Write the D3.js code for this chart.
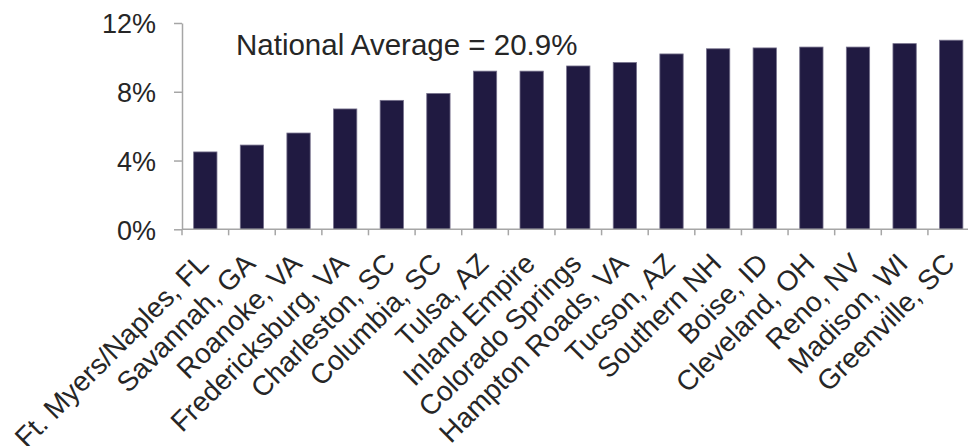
<!DOCTYPE html>
<html>
<head>
<meta charset="utf-8">
<script src="https://cdn.jsdelivr.net/npm/d3@7"></script>
<style>
  html, body { margin: 0; padding: 0; background: #ffffff; }
  svg { display: block; }
  text { font-family: Arial, "Liberation Sans", sans-serif; fill: #262626; }
</style>
</head>
<body>
<svg id="chart" width="968" height="446"></svg>
<script>
const categories = ["Ft. Myers/Naples, FL", "Savannah, GA", "Roanoke, VA", "Fredericksburg, VA", "Charleston, SC", "Columbia, SC", "Tulsa, AZ", "Inland Empire", "Colorado Springs", "Hampton Roads, VA", "Tucson, AZ", "Southern NH", "Boise, ID", "Cleveland, OH", "Reno, NV", "Madison, WI", "Greenville, SC"];
const values = [4.5, 4.9, 5.6, 7.0, 7.5, 7.9, 9.2, 9.2, 9.5, 9.7, 10.2, 10.5, 10.55, 10.6, 10.6, 10.8, 11.0];
const yTicks = [0, 4, 8, 12];
const annotation = "National Average = 20.9%";

const svg = d3.select("#chart");
const x0 = 182, yBase = 229.3, yTop = 23, step = 46.62;
const x = d3.scaleBand().domain(categories)
  .range([x0, x0 + step * categories.length])
  .paddingInner(0.5).paddingOuter(0.25);
const y = d3.scaleLinear().domain([0, 12]).range([yBase, yTop]);

const axisColor = "#a6a6a6";

// bars
svg.append("g").selectAll("rect").data(values).join("rect")
  .attr("x", (d, i) => x(categories[i]))
  .attr("y", d => y(d))
  .attr("width", x.bandwidth())
  .attr("height", d => y(0) - y(d))
  .attr("fill", "#201a41")
  .attr("stroke", "#76718c")
  .attr("stroke-width", 0.8);

// y axis
const yAxis = svg.append("g").attr("transform", `translate(${x0},0)`)
  .call(d3.axisLeft(y).tickValues(yTicks).tickFormat(d => d + "%").tickSize(8).tickSizeOuter(0));
yAxis.select(".domain").attr("stroke", axisColor).attr("stroke-width", 1.5);
yAxis.selectAll(".tick line").attr("stroke", axisColor).attr("stroke-width", 1.5);
yAxis.selectAll(".tick text").attr("font-size", 27).attr("x", -26).attr("dy", "0.36em")
  .style("font-family", "Arial, 'Liberation Sans', sans-serif").attr("fill", "#262626");

// x axis line with boundary ticks
const xAxisG = svg.append("g");
xAxisG.append("line").attr("x1", x0).attr("x2", x0 + step * categories.length)
  .attr("y1", yBase).attr("y2", yBase).attr("stroke", axisColor).attr("stroke-width", 1.5);
const bounds = d3.range(categories.length + 1).map(k => x0 + k * step);
xAxisG.selectAll("line.t").data(bounds).join("line").attr("class", "t")
  .attr("x1", d => d).attr("x2", d => d).attr("y1", yBase).attr("y2", yBase + 6)
  .attr("stroke", axisColor).attr("stroke-width", 1.5);

// x labels
svg.append("g").selectAll("text").data(categories).join("text")
  .attr("transform", d => `translate(${x(d) + x.bandwidth() / 2 + 5},${yBase + 36}) rotate(-45)`)
  .attr("text-anchor", "end")
  .attr("font-size", 28)
  .text(d => d);

// annotation
svg.append("text").attr("x", 236).attr("y", 55).attr("font-size", 29.5).text(annotation);
</script>
</body>
</html>
